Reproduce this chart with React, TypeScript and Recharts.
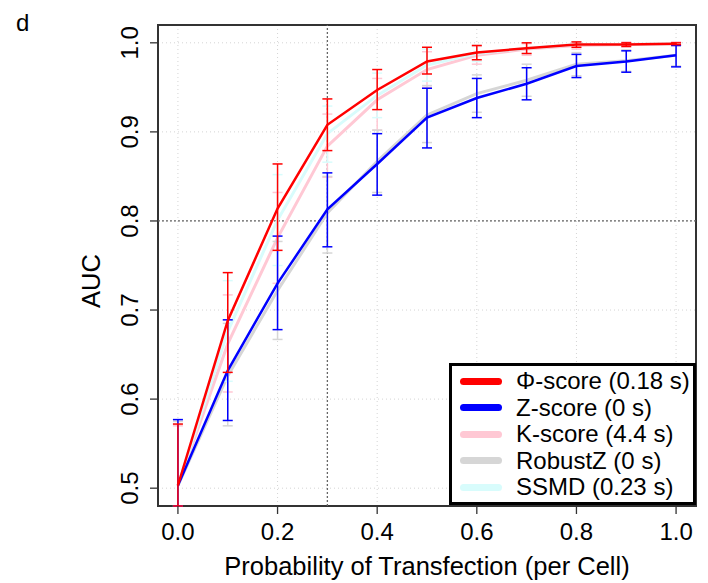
import React from 'react';
import {
  LineChart,
  Line,
  XAxis,
  YAxis,
  CartesianGrid,
  ReferenceLine,
  ReferenceArea,
  ErrorBar,
  Legend,
  Label,
} from 'recharts';

// transfection probability per cell
const prob = [0, 0.1, 0.2, 0.3, 0.4, 0.5, 0.6, 0.7, 0.8, 0.9, 1.0];
const xTicks = [0, 0.2, 0.4, 0.6, 0.8, 1.0];
const yTicks = [0.5, 0.6, 0.7, 0.8, 0.9, 1.0];

// mean AUC and error bar bounds per method
const phiMean = [0.503, 0.688, 0.814, 0.908, 0.947, 0.979, 0.989, 0.994, 0.998, 0.998, 0.999];
const phiLow = [0.48, 0.63, 0.767, 0.879, 0.925, 0.965, 0.981, 0.988, 0.995, 0.996, 0.998];
const phiHigh = [0.572, 0.742, 0.864, 0.937, 0.97, 0.995, 0.997, 1.0, 1.001, 1.0, 1.0];

const zMean = [0.503, 0.632, 0.73, 0.813, 0.864, 0.916, 0.938, 0.954, 0.974, 0.979, 0.986];
const zLow = [0.48, 0.576, 0.678, 0.771, 0.829, 0.882, 0.916, 0.936, 0.961, 0.967, 0.973];
const zHigh = [0.577, 0.689, 0.783, 0.854, 0.898, 0.949, 0.96, 0.972, 0.987, 0.991, 0.997];

const kMean = [0.503, 0.662, 0.781, 0.884, 0.936, 0.97, 0.986, 0.993, 0.997, 0.998, 0.999];
const kLow = [0.48, 0.608, 0.73, 0.849, 0.902, 0.95, 0.976, 0.986, 0.993, 0.995, 0.997];
const kHigh = [0.57, 0.717, 0.832, 0.92, 0.96, 0.99, 0.996, 0.999, 1.001, 1.001, 1.001];

const robustMean = [0.503, 0.626, 0.722, 0.809, 0.867, 0.919, 0.943, 0.958, 0.976, 0.98, 0.986];
const robustLow = [0.48, 0.57, 0.667, 0.764, 0.832, 0.888, 0.922, 0.94, 0.963, 0.968, 0.974];
const robustHigh = [0.575, 0.685, 0.777, 0.85, 0.902, 0.952, 0.964, 0.976, 0.989, 0.992, 0.997];

const ssmdMean = [0.503, 0.676, 0.801, 0.898, 0.941, 0.975, 0.988, 0.994, 0.998, 0.998, 0.999];
const ssmdLow = [0.48, 0.62, 0.75, 0.866, 0.916, 0.957, 0.979, 0.988, 0.995, 0.996, 0.998];
const ssmdHigh = [0.572, 0.733, 0.852, 0.929, 0.966, 0.993, 0.997, 1.0, 1.001, 1.0, 1.0];

const FONT = '"Liberation Sans", Arial, Helvetica, sans-serif';

const series = [
  { key: 'phi', name: 'Φ-score (0.18 s)', color: '#ff0000', mean: phiMean, low: phiLow, high: phiHigh },
  { key: 'z', name: 'Z-score (0 s)', color: '#0000ff', mean: zMean, low: zLow, high: zHigh },
  { key: 'k', name: 'K-score (4.4 s)', color: '#ffc8d4', mean: kMean, low: kLow, high: kHigh },
  { key: 'robust', name: 'RobustZ (0 s)', color: '#d6d6d6', mean: robustMean, low: robustLow, high: robustHigh },
  { key: 'ssmd', name: 'SSMD (0.23 s)', color: '#d8fcfc', mean: ssmdMean, low: ssmdLow, high: ssmdHigh },
];

// draw order: light ones first, red on top
const drawOrder = ['k', 'robust', 'ssmd', 'z', 'phi'];

const data = prob.map((p, i) => {
  const row: Record<string, any> = { p };
  series.forEach((s) => {
    row[s.key] = s.mean[i];
    row[s.key + 'Err'] = [s.mean[i] - s.low[i], s.high[i] - s.mean[i]];
  });
  return row;
});

const XTick = ({ x, y, payload }: any) => (
  <text x={x} y={y + 24} textAnchor="middle" fontSize={24} fontFamily={FONT} fill="#000">
    {Number(payload.value).toFixed(1)}
  </text>
);

const YTick = ({ x, y, payload }: any) => (
  <text
    x={x - 10}
    y={y}
    transform={`rotate(-90 ${x - 10} ${y})`}
    textAnchor="middle"
    fontSize={24}
    fontFamily={FONT}
    fill="#000"
  >
    {Number(payload.value).toFixed(1)}
  </text>
);

const LegendBox = () => (
  <div
    style={{
      boxSizing: 'border-box',
      width: 247,
      height: 142,
      border: '3px solid #000',
      background: '#fff',
      padding: '2px 0 0 8px',
      fontFamily: FONT,
      fontSize: 24,
      color: '#000',
    }}
  >
    {series.map((s) => (
      <div key={s.key} style={{ display: 'flex', alignItems: 'center', height: 26.5 }}>
        <span
          style={{
            display: 'inline-block',
            width: 42,
            height: 7,
            borderRadius: 4,
            background: s.color,
            marginRight: 14,
          }}
        />
        <span style={{ whiteSpace: 'nowrap' }}>{s.name}</span>
      </div>
    ))}
  </div>
);

export default function App() {
  return (
    <div style={{ position: 'relative', width: 700, height: 575, fontFamily: FONT }}>
      <div style={{ position: 'absolute', left: 8, top: 3, fontSize: 24, lineHeight: '24px', color: '#000' }}>d</div>
      <LineChart width={700} height={575} data={data} margin={{ top: 17, right: 12, bottom: 0, left: 0 }}>
        <CartesianGrid stroke="#d4d4d4" strokeDasharray="1 3" />
        <XAxis
          type="number"
          dataKey="p"
          domain={[-0.04, 1.04]}
          allowDataOverflow
          ticks={xTicks}
          height={77}
          axisLine={false}
          tickSize={8}
          tickLine={{ stroke: '#333', strokeWidth: 1.3 }}
          tick={<XTick />}
        >
          <Label
            content={() => (
              <text x={419} y={567} textAnchor="middle" fontSize={25.5} fontFamily={FONT} fill="#000">
                Probability of Transfection (per Cell)
              </text>
            )}
          />
        </XAxis>
        <YAxis
          type="number"
          domain={[0.48, 1.02]}
          allowDataOverflow
          ticks={yTicks}
          width={150}
          axisLine={false}
          tickSize={8}
          tickLine={{ stroke: '#333', strokeWidth: 1.3 }}
          tick={<YTick />}
        >
          <Label
            content={() => (
              <text
                x={92}
                y={273}
                transform="rotate(-90 92 273)"
                textAnchor="middle"
                fontSize={25.5}
                fontFamily={FONT}
                fill="#000"
              >
                AUC
              </text>
            )}
          />
        </YAxis>
        <ReferenceLine x={0.3} stroke="#666" strokeDasharray="2 2" strokeWidth={1.3} />
        <ReferenceLine y={0.8} stroke="#666" strokeDasharray="2 2" strokeWidth={1.3} />
        {drawOrder.map((k) => {
          const s = series.find((t) => t.key === k)!;
          const strong = k === 'phi' || k === 'z';
          return (
            <Line
              key={k}
              type="linear"
              dataKey={k}
              name={s.name}
              stroke={s.color}
              strokeWidth={strong ? 2.5 : 3}
              dot={false}
              activeDot={false}
              isAnimationActive={false}
            >
              <ErrorBar
                dataKey={k + 'Err'}
                direction="y"
                width={5}
                stroke={s.color}
                strokeWidth={1.5}
                isAnimationActive={false}
              />
            </Line>
          );
        })}
        <ReferenceArea x1={-0.04} x2={1.04} y1={0.48} y2={1.02} fill="none" stroke="#333" strokeWidth={2} />
        <Legend
          layout="horizontal"
          verticalAlign="middle"
          align="center"
          width={247}
          height={142}
          wrapperStyle={{ left: 441, top: 355 }}
          content={<LegendBox />}
        />
      </LineChart>
    </div>
  );
}
